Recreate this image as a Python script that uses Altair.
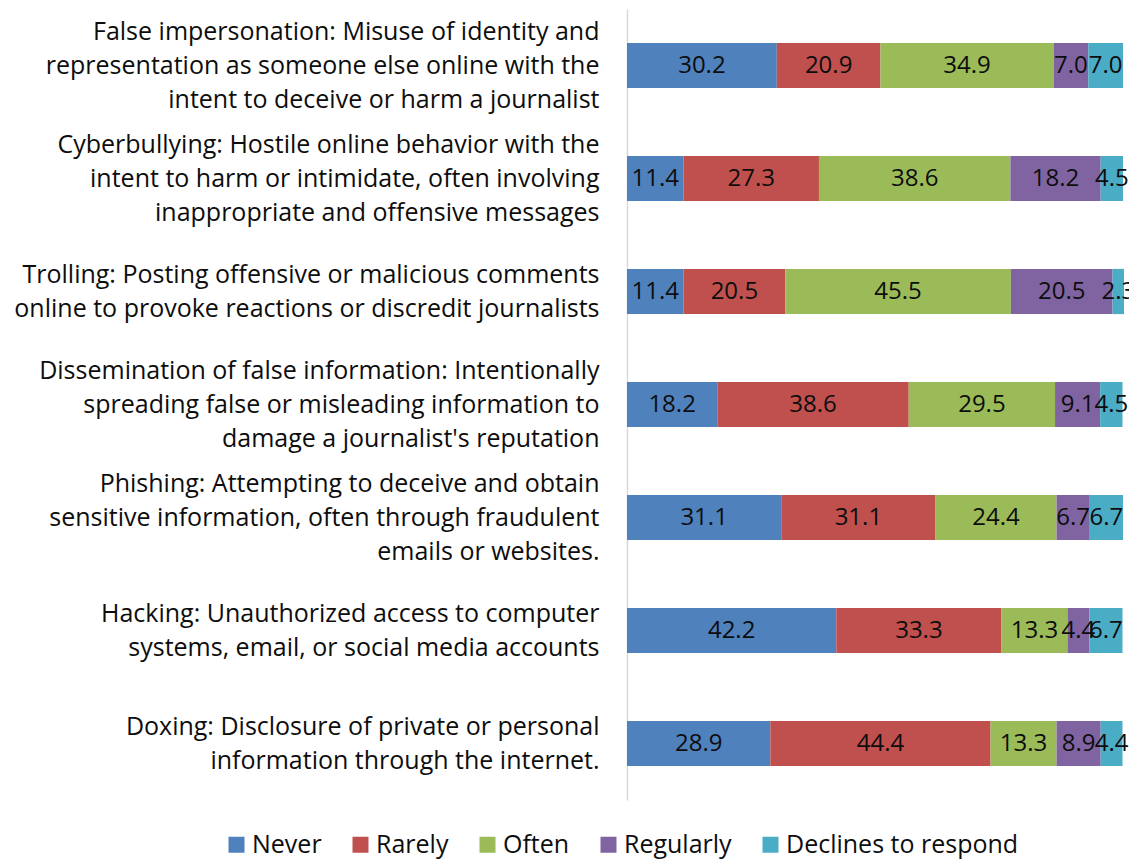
import altair as alt
import pandas as pd

categories = [
    "False impersonation: Misuse of identity and|representation as someone else online with the|intent to deceive or harm a journalist",
    "Cyberbullying: Hostile online behavior with the|intent to harm or intimidate, often involving|inappropriate and offensive messages",
    "Trolling: Posting offensive or malicious comments|online to provoke reactions or discredit journalists",
    "Dissemination of false information: Intentionally|spreading false or misleading information to|damage a journalist's reputation",
    "Phishing: Attempting to deceive and obtain|sensitive information, often through fraudulent|emails or websites.",
    "Hacking: Unauthorized access to computer|systems, email, or social media accounts",
    "Doxing: Disclosure of private or personal|information through the internet.",
]
series = ["Never", "Rarely", "Often", "Regularly", "Declines to respond"]
colors = ["#4F81BD", "#C0504D", "#9BBB59", "#8064A2", "#4BACC6"]

never = [30.2, 11.4, 11.4, 18.2, 31.1, 42.2, 28.9]
rarely = [20.9, 27.3, 20.5, 38.6, 31.1, 33.3, 44.4]
often = [34.9, 38.6, 45.5, 29.5, 24.4, 13.3, 13.3]
regularly = [7.0, 18.2, 20.5, 9.1, 6.7, 4.4, 8.9]
declines = [7.0, 4.5, 2.3, 4.5, 6.7, 6.7, 4.4]

values = [never, rarely, often, regularly, declines]
rows = []
for si, (s, vals) in enumerate(zip(series, values)):
    for ci, c in enumerate(categories):
        rows.append({"category": c, "series": s, "idx": si, "value": vals[ci]})
df = pd.DataFrame(rows)

FONT = "Open Sans"

base = alt.Chart(df).transform_stack(
    stack="value", groupby=["category"], as_=["x0", "x1"], sort=[alt.SortField("idx")]
).transform_calculate(mid="(datum.x0 + datum.x1) / 2", lbl="format(datum.value, '.1f')")

y_enc = alt.Y(
    "category:N",
    sort=categories,
    scale=alt.Scale(paddingInner=0.6, paddingOuter=0.3),
    axis=alt.Axis(
        title=None,
        ticks=False,
        domain=True,
        domainColor="#D9D9D9",
        domainWidth=1.5,
        labelExpr="split(datum.label, '|')",
        labelFont=FONT,
        labelFontSize=25,
        labelLineHeight=34,
        labelColor="#0d0d0d",
        labelPadding=28,
        labelAlign="right",
        labelBaseline="middle",
        labelOffset=alt.ExprRef(expr="-(length(split(datum.label, '|')) - 1) * 17"),
        labelLimit=700,
    ),
)

x_scale = alt.Scale(domain=[0, 100], nice=False)

bars = base.mark_bar().encode(
    x=alt.X("x0:Q", scale=x_scale, axis=None),
    x2="x1:Q",
    y=y_enc,
    color=alt.Color(
        "series:N",
        sort=series,
        scale=alt.Scale(domain=series, range=colors),
        legend=alt.Legend(
            title=None,
            orient="none",
            direction="horizontal",
            legendX=-403,
            legendY=823,
            symbolType="square",
            symbolSize=256,
            symbolStrokeWidth=0,
            symbolOpacity=1,
            labelFont=FONT,
            labelFontSize=25,
            labelColor="#0d0d0d",
            labelOffset=3,
            columnPadding=26,
            labelLimit=400,
        ),
    ),
    order=alt.Order("idx:Q"),
)

labels = base.mark_text(font=FONT, fontSize=24, color="#0d0d0d").encode(
    x=alt.X("mid:Q", scale=x_scale, axis=None),
    y=alt.Y("category:N", sort=categories),
    text="lbl:N",
)

chart = (
    alt.layer(bars, labels)
    .properties(
        width=496,
        height=791,
        autosize=alt.AutoSizeParams(type="none"),
        padding={"left": 619, "top": 1, "right": 6, "bottom": 60},
    )
    .configure(font=FONT)
    .configure_view(stroke="transparent", strokeWidth=0)
)

chart.save("out.html", embed_options={"renderer": "svg", "actions": False})
